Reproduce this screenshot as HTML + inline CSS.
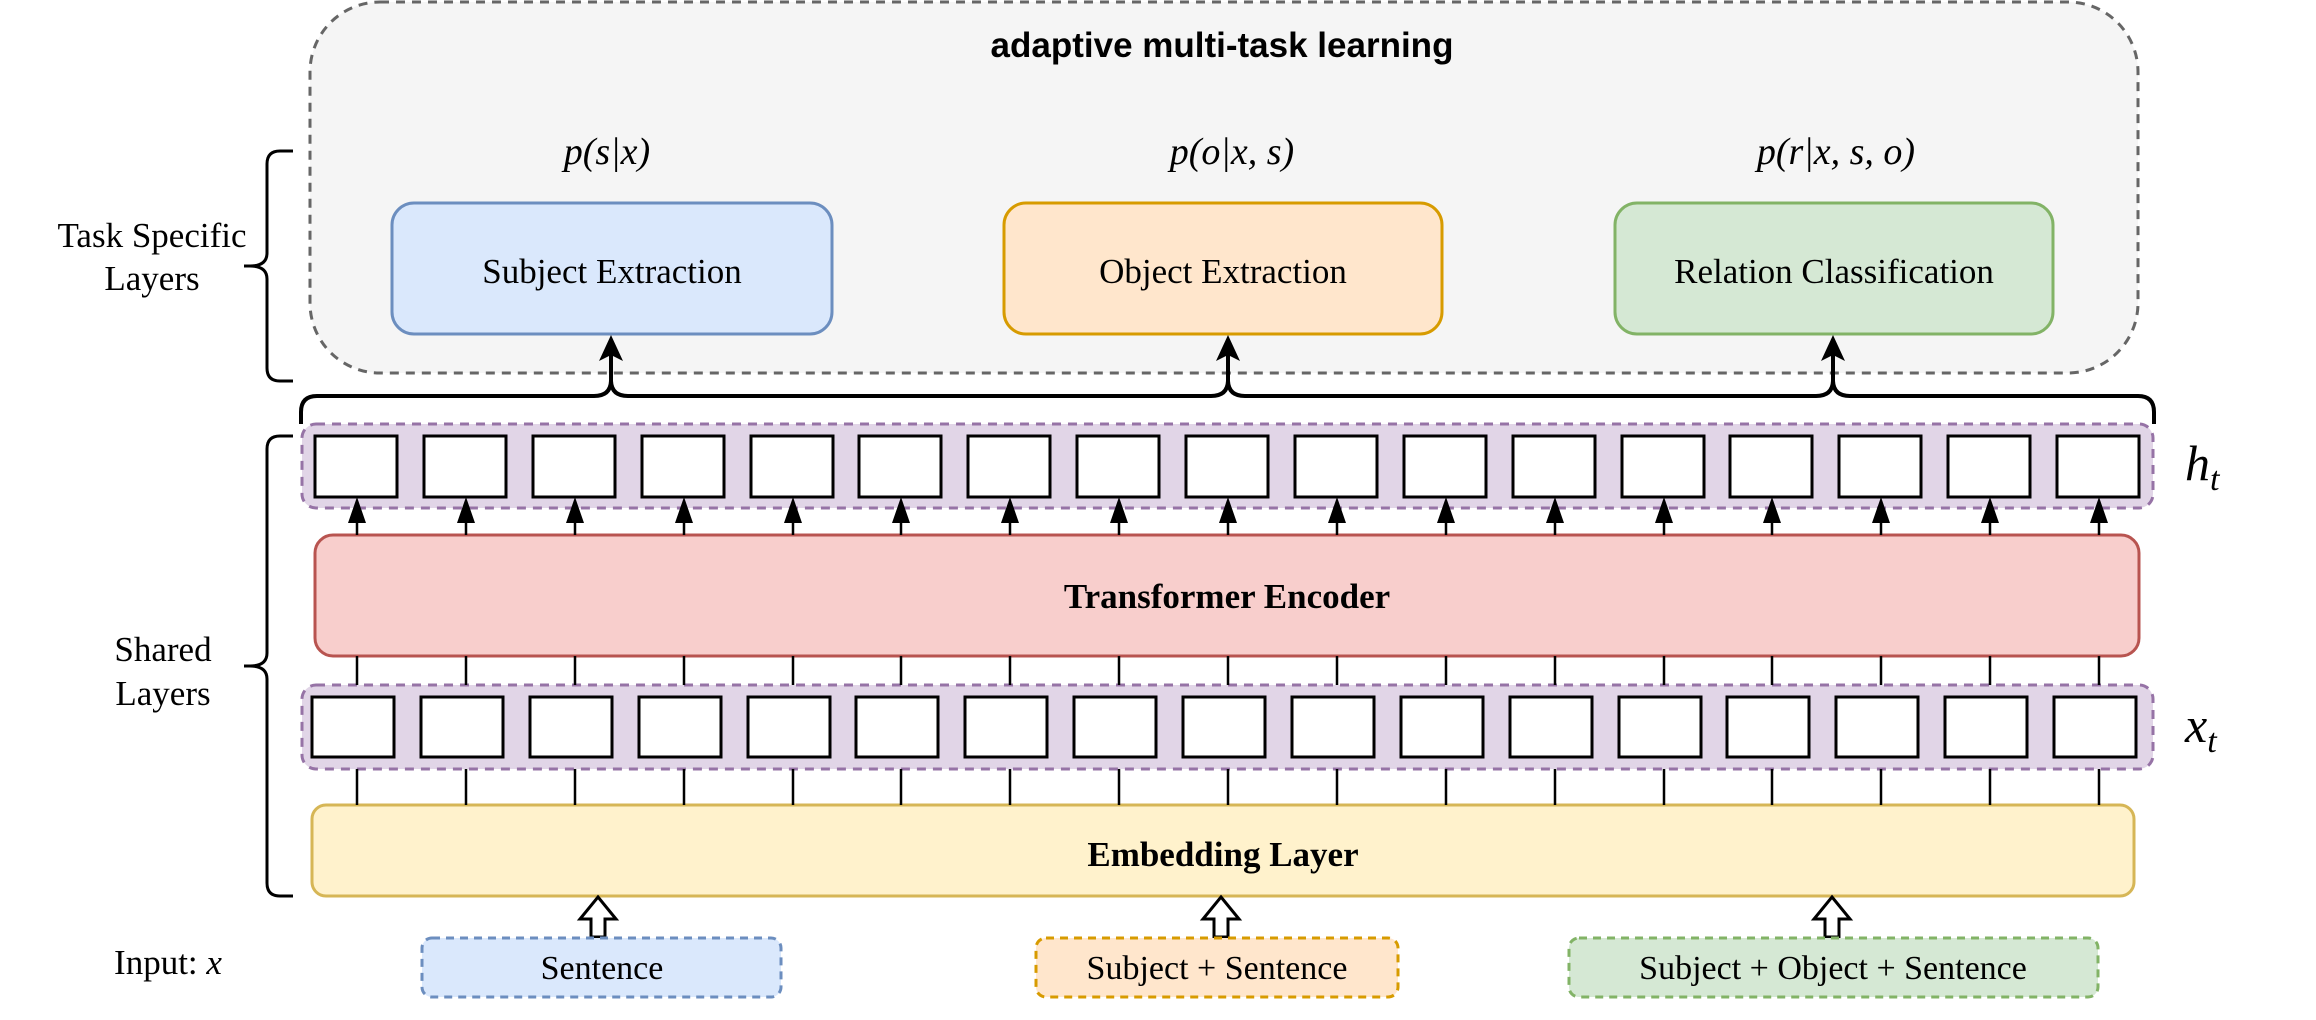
<!DOCTYPE html>
<html><head><meta charset="utf-8"><style>
html,body{margin:0;padding:0;background:#fff;}
svg{display:block;}
.serif{font-family:"Liberation Serif",serif;}
.it{font-family:"Liberation Serif",serif;font-style:italic;}
</style></head><body>
<svg width="2316" height="1020" viewBox="0 0 2316 1020" xmlns="http://www.w3.org/2000/svg">
<rect x="310" y="2" width="1828" height="371" rx="70" fill="#f5f5f5" stroke="#666" stroke-width="3" stroke-dasharray="9,7"/>
<text x="1222" y="57" text-anchor="middle" font-family="Liberation Sans, sans-serif" font-weight="bold" font-size="35">adaptive multi-task learning</text>
<g class="it" font-size="38" text-anchor="middle">
<text x="607" y="164">p(s|x)</text>
<text x="1232" y="164">p(o|x, s)</text>
<text x="1836" y="164">p(r|x, s, o)</text>
</g>
<rect x="392" y="203" width="440" height="131" rx="22" fill="#dae8fc" stroke="#6c8ebf" stroke-width="3"/>
<rect x="1004" y="203" width="438" height="131" rx="22" fill="#ffe6cc" stroke="#d79b00" stroke-width="3"/>
<rect x="1615" y="203" width="438" height="131" rx="22" fill="#d5e8d4" stroke="#82b366" stroke-width="3"/>
<g class="serif" font-size="35" text-anchor="middle">
<text x="612" y="283">Subject Extraction</text>
<text x="1223" y="283">Object Extraction</text>
<text x="1834" y="283">Relation Classification</text>
</g>
<g class="serif" font-size="35" text-anchor="middle">
<text x="152" y="247">Task Specific</text>
<text x="152" y="290">Layers</text>
<text x="163" y="661">Shared</text>
<text x="163" y="705">Layers</text>
<text x="168" y="974">Input: <tspan font-style="italic">x</tspan></text>
</g>
<g fill="none" stroke="#000" stroke-width="3">
<path d="M293 151 H280 Q267 151 267 164 V253 Q267 266 250 266 H244 M250 266 Q267 266 267 279 V368 Q267 381 280 381 H293"/>
<path d="M293 436 H280 Q267 436 267 449 V653 Q267 666 250 666 H244 M250 666 Q267 666 267 679 V883 Q267 896 280 896 H293"/>
<path d="M301 424 V412 Q301 396 317 396 H594 Q611 396 611 380 Q611 396 628 396 H1211 Q1228 396 1228 380 Q1228 396 1245 396 H1816 Q1833 396 1833 380 Q1833 396 1850 396 H2138 Q2154 396 2154 412 V424" stroke-width="4"/>
<path d="M611 380 V352 M1228 380 V352 M1833 380 V352" stroke-width="4"/>
</g>
<g fill="#000">
<path d="M611 335 L599 361 L611 355 L623 361 Z"/>
<path d="M1228 335 L1216 361 L1228 355 L1240 361 Z"/>
<path d="M1833 335 L1821 361 L1833 355 L1845 361 Z"/>
</g>
<rect x="302" y="424" width="1851" height="84" rx="14" fill="#e1d5e7" stroke="#9673a6" stroke-width="3" stroke-dasharray="9,7"/>
<rect x="302" y="685" width="1851" height="84" rx="14" fill="#e1d5e7" stroke="#9673a6" stroke-width="3" stroke-dasharray="9,7"/>
<rect x="315" y="535" width="1824" height="121" rx="18" fill="#f8cecc" stroke="#b85450" stroke-width="3"/>
<text x="1227" y="608" text-anchor="middle" class="serif" font-weight="bold" font-size="35">Transformer Encoder</text>
<rect x="312" y="805" width="1822" height="91" rx="14" fill="#fff2cc" stroke="#d6b656" stroke-width="3"/>
<text x="1223" y="866" text-anchor="middle" class="serif" font-weight="bold" font-size="35">Embedding Layer</text>
<text x="2185" y="480" class="it" font-size="50">h<tspan font-size="34" dy="10">t</tspan></text>
<text x="2185" y="742" class="it" font-size="50">x<tspan font-size="34" dy="10">t</tspan></text>
<g fill="#fff" stroke="#000" stroke-width="3">
<path d="M598 897 L616 919 H605 V937 H591 V919 H580 Z"/>
<path d="M1221 897 L1239 919 H1228 V937 H1214 V919 H1203 Z"/>
<path d="M1832 897 L1850 919 H1839 V937 H1825 V919 H1814 Z"/>
</g>
<rect x="422" y="938" width="359" height="59" rx="10" fill="#dae8fc" stroke="#6c8ebf" stroke-width="3" stroke-dasharray="8,6"/>
<rect x="1036" y="938" width="362" height="59" rx="10" fill="#ffe6cc" stroke="#d79b00" stroke-width="3" stroke-dasharray="8,6"/>
<rect x="1569" y="938" width="529" height="59" rx="10" fill="#d5e8d4" stroke="#82b366" stroke-width="3" stroke-dasharray="8,6"/>
<g class="serif" font-size="34" text-anchor="middle">
<text x="602" y="979">Sentence</text>
<text x="1217" y="979">Subject + Sentence</text>
<text x="1833" y="979">Subject + Object + Sentence</text>
</g>
<g stroke="#000" stroke-width="3" fill="#fff">
<rect x="315" y="436" width="82" height="61"/><rect x="424" y="436" width="82" height="61"/><rect x="533" y="436" width="82" height="61"/><rect x="642" y="436" width="82" height="61"/><rect x="751" y="436" width="82" height="61"/><rect x="859" y="436" width="82" height="61"/><rect x="968" y="436" width="82" height="61"/><rect x="1077" y="436" width="82" height="61"/><rect x="1186" y="436" width="82" height="61"/><rect x="1295" y="436" width="82" height="61"/><rect x="1404" y="436" width="82" height="61"/><rect x="1513" y="436" width="82" height="61"/><rect x="1622" y="436" width="82" height="61"/><rect x="1730" y="436" width="82" height="61"/><rect x="1839" y="436" width="82" height="61"/><rect x="1948" y="436" width="82" height="61"/><rect x="2057" y="436" width="82" height="61"/>
<rect x="312" y="697" width="82" height="60"/><rect x="421" y="697" width="82" height="60"/><rect x="530" y="697" width="82" height="60"/><rect x="639" y="697" width="82" height="60"/><rect x="748" y="697" width="82" height="60"/><rect x="856" y="697" width="82" height="60"/><rect x="965" y="697" width="82" height="60"/><rect x="1074" y="697" width="82" height="60"/><rect x="1183" y="697" width="82" height="60"/><rect x="1292" y="697" width="82" height="60"/><rect x="1401" y="697" width="82" height="60"/><rect x="1510" y="697" width="82" height="60"/><rect x="1619" y="697" width="82" height="60"/><rect x="1727" y="697" width="82" height="60"/><rect x="1836" y="697" width="82" height="60"/><rect x="1945" y="697" width="82" height="60"/><rect x="2054" y="697" width="82" height="60"/>
</g>
<g stroke="#000" stroke-width="2.5" fill="none">
<path d="M357 535V515M466 535V515M575 535V515M684 535V515M793 535V515M901 535V515M1010 535V515M1119 535V515M1228 535V515M1337 535V515M1446 535V515M1555 535V515M1664 535V515M1772 535V515M1881 535V515M1990 535V515M2099 535V515"/>
<path d="M357 656V685M466 656V685M575 656V685M684 656V685M793 656V685M901 656V685M1010 656V685M1119 656V685M1228 656V685M1337 656V685M1446 656V685M1555 656V685M1664 656V685M1772 656V685M1881 656V685M1990 656V685M2099 656V685"/>
<path d="M357 769V805M466 769V805M575 769V805M684 769V805M793 769V805M901 769V805M1010 769V805M1119 769V805M1228 769V805M1337 769V805M1446 769V805M1555 769V805M1664 769V805M1772 769V805M1881 769V805M1990 769V805M2099 769V805"/>
</g>
<g fill="#000">
<path d="M357 497l-9 26h18zM466 497l-9 26h18zM575 497l-9 26h18zM684 497l-9 26h18zM793 497l-9 26h18zM901 497l-9 26h18zM1010 497l-9 26h18zM1119 497l-9 26h18zM1228 497l-9 26h18zM1337 497l-9 26h18zM1446 497l-9 26h18zM1555 497l-9 26h18zM1664 497l-9 26h18zM1772 497l-9 26h18zM1881 497l-9 26h18zM1990 497l-9 26h18zM2099 497l-9 26h18z"/>
</g>
</svg>
</body></html>
